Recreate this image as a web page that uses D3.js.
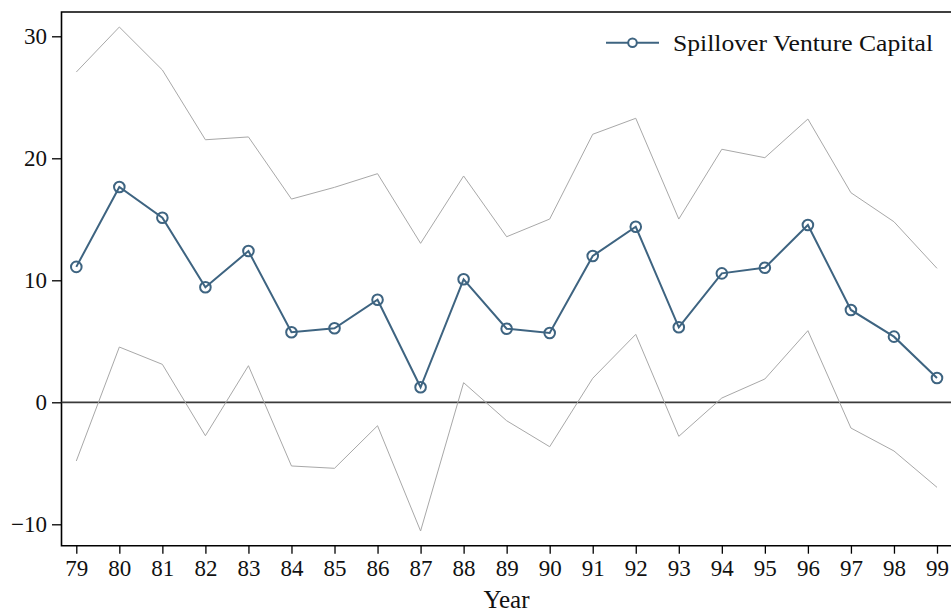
<!DOCTYPE html>
<html>
<head>
<meta charset="utf-8">
<script src="https://cdn.jsdelivr.net/npm/d3@7"></script>
<style>
  html, body { margin: 0; padding: 0; background: #fff; }
  svg { display: block; }
  text { font-family: "Palatino Linotype", Palatino, "Book Antiqua", "Liberation Serif", serif; }
</style>
</head>
<body>
<div id="chart"></div>
<script>
(function () {
  "use strict";

  var years = [79, 80, 81, 82, 83, 84, 85, 86, 87, 88, 89, 90, 91, 92, 93, 94, 95, 96, 97, 98, 99],
    estimate = [11.1, 17.65, 15.13, 9.43, 12.4, 5.74, 6.07, 8.41, 1.23, 10.08, 6.03, 5.68, 11.99, 14.39, 6.15, 10.57, 11.03, 14.53, 7.57, 5.38, 1.99],
    upper = [27.07, 30.76, 27.24, 21.52, 21.75, 16.66, 17.62, 18.74, 13.03, 18.55, 13.57, 15.02, 21.97, 23.28, 15.02, 20.74, 20.05, 23.22, 17.18, 14.8, 10.98],
    lower = [-4.81, 4.53, 3.11, -2.74, 3.0, -5.22, -5.41, -1.92, -10.55, 1.61, -1.51, -3.64, 1.97, 5.57, -2.79, 0.35, 1.91, 5.87, -2.11, -3.99, -6.97],
    yTicks = [-10, 0, 10, 20, 30],
    seriesName = "Spillover Venture Capital",
    xTitle = "Year";

  var w = 951,
    h = 614,
    frame = { left: 61.5, top: 12, right: 953, bottom: 545.7 },
    blue = "#3e6481",
    grey = "#a8a8a8",
    svg, x, y;

  function createSvg() {
    svg = d3.select("#chart")
      .append("svg")
      .attr("width", w)
      .attr("height", h);
  }

  function getScales() {
    x = d3.scaleLinear().domain([79, 99]).range([76.3, 937]);
    y = d3.scaleLinear().domain([-10, 30]).range([524.3, 36.3]);
  }

  function drawAxes() {
    var yAxis = d3.axisLeft(y)
      .tickValues(yTicks)
      .tickSize(9.5)
      .tickSizeOuter(0)
      .tickPadding(5)
      .tickFormat(function (d) { return d < 0 ? "\u2212" + Math.abs(d) : d; });

    var gy = svg.append("g")
      .attr("transform", "translate(" + frame.left + ",0)")
      .call(yAxis);

    var xAxis = d3.axisBottom(x)
      .tickValues(years)
      .tickSize(8)
      .tickSizeOuter(0)
      .tickPadding(6)
      .tickFormat(d3.format("d"));

    var gx = svg.append("g")
      .attr("transform", "translate(0," + frame.bottom + ")")
      .call(xAxis);

    [gx, gy].forEach(function (g) {
      g.select(".domain").remove();
      g.selectAll(".tick line").attr("stroke", "#000").attr("stroke-width", 1.3);
      g.selectAll(".tick text")
        .attr("fill", "#111")
        .style("font-size", "23px");
    });

    // frame
    svg.append("path")
      .attr("d", "M" + frame.right + "," + frame.top + "H" + frame.left + "V" + frame.bottom + "H" + frame.right)
      .attr("fill", "none")
      .attr("stroke", "#000")
      .attr("stroke-width", 1.6);

    svg.append("text")
      .attr("x", 506.5)
      .attr("y", 607.5)
      .attr("text-anchor", "middle")
      .attr("fill", "#111")
      .style("font-size", "25px")
      .text(xTitle);
  }

  function drawLines() {
    svg.append("line")
      .attr("x1", frame.left)
      .attr("x2", frame.right)
      .attr("y1", y(0))
      .attr("y2", y(0))
      .attr("stroke", "#3a3a3a")
      .attr("stroke-width", 1.8);

    var band = d3.line()
      .x(function (d, i) { return x(years[i]); })
      .y(function (d) { return y(d); });

    [upper, lower].forEach(function (s) {
      svg.append("path")
        .datum(s)
        .attr("d", band)
        .attr("fill", "none")
        .attr("stroke", grey)
        .attr("stroke-width", 1);
    });

    svg.append("path")
      .datum(estimate)
      .attr("d", band)
      .attr("fill", "none")
      .attr("stroke", blue)
      .attr("stroke-width", 2);

    svg.selectAll(".pt")
      .data(estimate)
      .enter().append("circle")
      .attr("class", "pt")
      .attr("cx", function (d, i) { return x(years[i]); })
      .attr("cy", function (d) { return y(d); })
      .attr("r", 5.3)
      .attr("fill", "none")
      .attr("stroke", blue)
      .attr("stroke-width", 2);
  }

  function drawLegend() {
    var lg = svg.append("g");
    lg.append("line")
      .attr("x1", 606).attr("x2", 659)
      .attr("y1", 42.7).attr("y2", 42.7)
      .attr("stroke", blue)
      .attr("stroke-width", 2);
    lg.append("circle")
      .attr("cx", 632.5).attr("cy", 42.7)
      .attr("r", 4.3)
      .attr("fill", "#fff")
      .attr("stroke", blue)
      .attr("stroke-width", 2);
    lg.append("text")
      .attr("x", 673)
      .attr("y", 50.5)
      .attr("fill", "#111")
      .attr("textLength", 260)
      .attr("lengthAdjust", "spacingAndGlyphs")
      .style("font-size", "24px")
      .text(seriesName);
  }

  createSvg();
  getScales();
  drawAxes();
  drawLines();
  drawLegend();
})();
</script>
</body>
</html>
